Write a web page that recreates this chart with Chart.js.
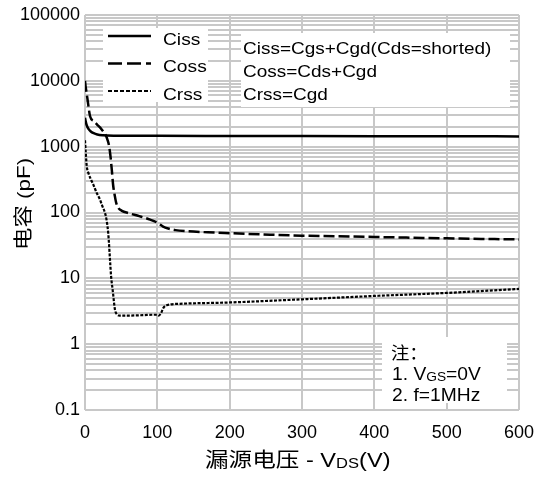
<!DOCTYPE html>
<html>
<head>
<meta charset="utf-8">
<script src="https://cdn.jsdelivr.net/npm/chart.js@4.4.1/dist/chart.umd.min.js"></script>
<style>
  body { margin: 0; background: #fff; }
  canvas { display: block; }
</style>
</head>
<body>
<canvas id="cap" width="539" height="477"></canvas>
<script>
// values (pF vs V)
const vdsCiss = [0, 1, 2.5, 5, 8, 12, 17, 25, 40, 100, 200, 300, 400, 500, 600];
const ciss = [2750, 2400, 2100, 1850, 1700, 1600, 1530, 1490, 1470, 1460, 1455, 1450, 1445, 1440, 1430];

const vdsCoss = [0, 1, 3, 7, 12, 17, 21, 26, 29, 31, 33, 35, 37, 39, 41, 43, 46, 51, 60, 75, 90, 100, 108, 115, 125, 140, 170, 200, 256, 300, 400, 500, 600];
const coss = [10000, 8000, 5700, 2900, 2450, 2150, 1950, 1650, 1470, 1280, 1070, 750, 450, 255, 185, 142, 118, 106, 98, 88, 78, 70, 61, 57, 54, 52, 50, 48.5, 46, 44.5, 42.5, 40.5, 39];

const vdsCrss = [0, 1, 2.5, 5, 8, 11.5, 16, 20.7, 24, 27.6, 30, 32, 33, 34, 35, 36, 37, 38, 39, 40, 41.5, 44, 48, 60, 80, 97, 100, 102, 105, 108, 111, 117, 131, 200, 300, 400, 500, 600];
const crss = [1250, 820, 500, 390, 320, 265, 200, 157, 125, 99, 75, 50, 36, 24, 16, 11, 8.5, 7, 5.6, 4.4, 3.3, 2.85, 2.72, 2.72, 2.76, 2.8, 2.78, 2.72, 2.95, 3.5, 3.8, 4.0, 4.1, 4.3, 4.8, 5.4, 6.0, 6.9];

const xTicks = [0, 100, 200, 300, 400, 500, 600];
const yDecades = [0.1, 1, 10, 100, 1000, 10000, 100000];

const legendLabels = ['Ciss', 'Coss', 'Crss'];
const formulaLines = ['Ciss=Cgs+Cgd(Cds=shorted)', 'Coss=Cds+Cgd', 'Crss=Cgd'];

const LATIN = "'Liberation Sans', Arial, sans-serif";
const CJK = "'Liberation Sans', 'Noto Sans CJK SC', sans-serif";
const GRID = '#c8c8c8';

// every 1..9 step in each decade gets a grid line
const yGridValues = [];
for (let i = 0; i < yDecades.length - 1; i++) {
  for (let m = 1; m <= 9; m++) {
    yGridValues.push(Number((yDecades[i] * m).toPrecision(6)));
  }
}
yGridValues.push(yDecades[yDecades.length - 1]);

function pts(xs, ys) {
  return xs.map((x, i) => ({x: x, y: ys[i]}));
}

function stretchText(ctx, str, x, y, font, sx) {
  ctx.save();
  ctx.font = font;
  ctx.translate(x, y);
  ctx.scale(sx, 1);
  ctx.fillText(str, 0, 0);
  const w = ctx.measureText(str).width * sx;
  ctx.restore();
  return w;
}

const overlay = {
  id: 'overlay',
  afterDraw(chart) {
    const ctx = chart.ctx;
    ctx.save();
    ctx.fillStyle = '#fff';
    ctx.fillRect(103, 28, 105, 74);   // legend
    ctx.fillRect(241, 33, 269, 74);   // formulas
    ctx.fillRect(382, 337, 125, 66);  // notes

    // legend samples
    const ds = chart.data.datasets;
    const lineY = [36, 63.5, 91];
    const legendDash = [[], [14, 5], [4, 2]];
    ds.forEach((d, i) => {
      ctx.save();
      ctx.strokeStyle = '#000';
      ctx.lineWidth = d.borderWidth;
      ctx.setLineDash(legendDash[i]);
      ctx.beginPath();
      ctx.moveTo(108, lineY[i]);
      ctx.lineTo(151, lineY[i]);
      ctx.stroke();
      ctx.restore();
    });
    ctx.fillStyle = '#000';
    ctx.textBaseline = 'alphabetic';
    const legBase = [44.5, 72, 99.5];
    legendLabels.forEach((t, i) => stretchText(ctx, t, 163, legBase[i], '16px ' + LATIN, 1.2));

    const fBase = [53.5, 76.5, 99.5];
    formulaLines.forEach((t, i) => stretchText(ctx, t, 243, fBase[i], '16.5px ' + LATIN, 1.15));

    // notes
    stretchText(ctx, '注：', 391, 359, '17.5px ' + CJK, 1.05);
    let x = 392;
    x += stretchText(ctx, '1. V', x, 380, '17.5px ' + LATIN, 1.1);
    x += stretchText(ctx, 'GS', x, 381, '12.5px ' + LATIN, 1.1);
    stretchText(ctx, '=0V', x, 380, '17.5px ' + LATIN, 1.1);
    stretchText(ctx, '2. f=1MHz', 392, 401, '17.5px ' + LATIN, 1.1);

    // x axis title
    x = 205;
    x += stretchText(ctx, '漏源电压 - V', x, 466.5, '20px ' + CJK, 1.18);
    x += stretchText(ctx, 'DS', x, 468, '14px ' + LATIN, 1.18);
    stretchText(ctx, '(V)', x, 466.5, '20px ' + LATIN, 1.18);

    // y axis title
    ctx.save();
    ctx.translate(30, 250);
    ctx.rotate(-Math.PI / 2);
    stretchText(ctx, '电容 (pF)', 0, 0, '19px ' + CJK, 1.18);
    ctx.restore();

    ctx.restore();
  }
};

Chart.defaults.font.family = LATIN;
Chart.defaults.color = '#000';

new Chart(document.getElementById('cap'), {
  type: 'line',
  data: {
    datasets: [{
      label: 'Ciss',
      data: pts(vdsCiss, ciss),
      borderColor: '#000',
      borderWidth: 2.5,
      pointRadius: 0,
      cubicInterpolationMode: 'monotone',
    }, {
      label: 'Coss',
      data: pts(vdsCoss, coss),
      borderColor: '#000',
      borderWidth: 2.5,
      borderDash: [11, 4],
      pointRadius: 0,
      cubicInterpolationMode: 'monotone',
    }, {
      label: 'Crss',
      data: pts(vdsCrss, crss),
      borderColor: '#000',
      borderWidth: 2.2,
      borderDash: [3, 1.5],
      pointRadius: 0,
      cubicInterpolationMode: 'monotone',
    }],
  },
  options: {
    responsive: false,
    animation: false,
    layout: {padding: {top: 15, right: 20, left: 0, bottom: 0}},
    plugins: {
      legend: {display: false},
      tooltip: {enabled: false},
    },
    scales: {
      x: {
        type: 'linear',
        min: 0,
        max: 600,
        afterBuildTicks: (s) => { s.ticks = xTicks.map((v) => ({value: v})); },
        afterFit: (s) => {
          s.height = 67;
          s.paddingLeft = 0;
          s.paddingRight = 0;
        },
        grid: {color: GRID, lineWidth: 2, drawTicks: false},
        border: {display: false},
        ticks: {font: {size: 18}, padding: 12, maxRotation: 0, autoSkip: false},
      },
      y: {
        type: 'logarithmic',
        min: 0.1,
        max: 100000,
        afterBuildTicks: (s) => { s.ticks = yGridValues.map((v) => ({value: v})); },
        afterFit: (s) => {
          s.width = 85;
          s.paddingTop = 0;
          s.paddingBottom = 0;
        },
        grid: {color: GRID, lineWidth: 2, drawTicks: false},
        border: {display: false},
        ticks: {
          font: {size: 18},
          padding: 5,
          autoSkip: false,
          callback: (v) => yDecades.some((d) => Math.abs(d - v) < d * 1e-9) ? String(v) : '',
        },
      },
    },
  },
  plugins: [overlay],
});
</script>
</body>
</html>
